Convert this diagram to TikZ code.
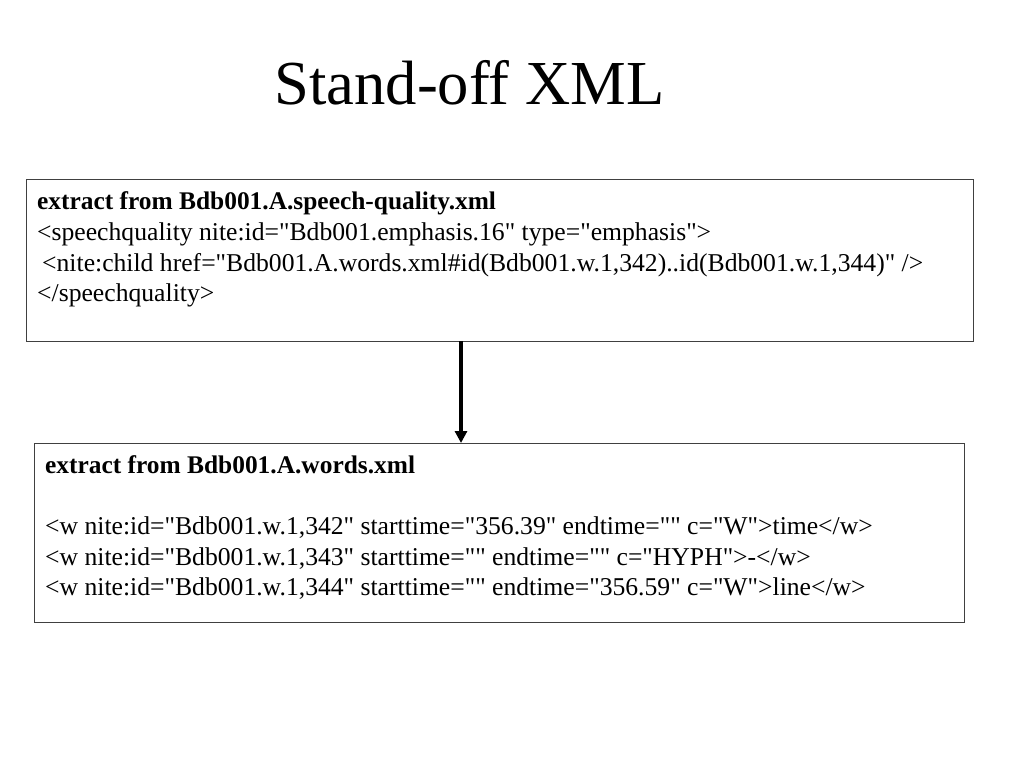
\documentclass[tikz,border=0pt]{standalone}
\usepackage{fontspec}
\setmainfont{Liberation Serif}
\newfontfamily\tnr{Liberation Serif}
\usetikzlibrary{arrows.meta}
\begin{document}
\begin{tikzpicture}[x=1pt,y=-1pt,
  boxframe/.style={draw=black!75, line width=1pt, fill=none, inner sep=0pt},
  txt/.style={anchor=base west, inner sep=0pt, font=\tnr\fontsize{25.65}{30}\selectfont},
  btxt/.style={txt, font=\tnr\fontsize{25.4}{30}\selectfont\bfseries},
  ttl/.style={anchor=base, inner sep=0pt, font=\tnr\fontsize{62.6}{70}\selectfont},
  conn/.style={line width=3.2pt, -{Triangle[length=12pt,width=12pt]}}]
\useasboundingbox (0,0) rectangle (1024,768);
\fill[white] (0,0) rectangle (1024,768);
\node[ttl] (title) at (469.5,104) {Stand-off XML};
% box 1
\coordinate (b1nw) at (26,179);
\coordinate (b1se) at (973,341);
\draw[boxframe] (b1nw) rectangle (b1se);
\node[btxt] (l11) at (37,209) {extract from Bdb001.A.speech-quality.xml};
\node[txt] (l12) at (37,240) {<speechquality nite:id="Bdb001.emphasis.16" type="emphasis">};
\node[txt] (l13) at (42,271) {<nite:child href="Bdb001.A.words.xml\#id(Bdb001.w.1,342)..id(Bdb001.w.1,344)" />};
\node[txt] (l14) at (37,301) {</speechquality>};
% box 2
\coordinate (b2nw) at (34,443);
\coordinate (b2se) at (964,622);
\draw[boxframe] (b2nw) rectangle (b2se);
\node[btxt] (l21) at (45,473) {extract from Bdb001.A.words.xml};
\node[txt] (l22) at (45,534) {<w nite:id="Bdb001.w.1,342" starttime="356.39" endtime="" c="W">time</w>};
\node[txt] (l23) at (45,565) {<w nite:id="Bdb001.w.1,343" starttime="" endtime="" c="HYPH">-</w>};
\node[txt] (l24) at (45,595) {<w nite:id="Bdb001.w.1,344" starttime="" endtime="356.59" c="W">line</w>};
% connector
\coordinate (a1) at (461,341);
\coordinate (a2) at (461,443);
\draw[conn] (a1) -- (a2);
\end{tikzpicture}
\end{document}
